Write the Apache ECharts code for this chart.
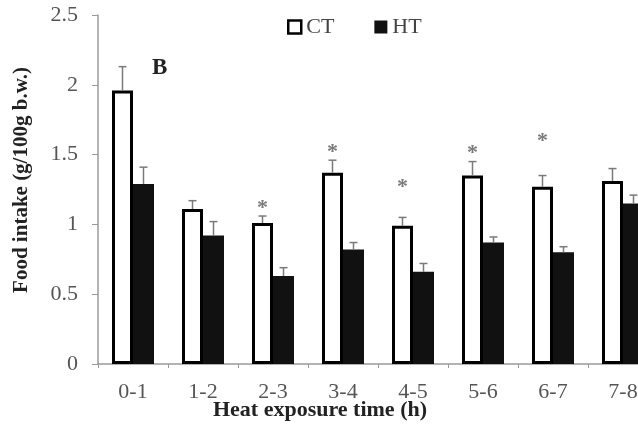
<!DOCTYPE html>
<html>
<head>
<meta charset="utf-8">
<script src="https://cdn.jsdelivr.net/npm/echarts@6/dist/echarts.min.js"></script>
<style>
  html, body { margin: 0; padding: 0; background: #fff; overflow: hidden; }
  /* the original figure is cut off on the right, so the chart is a bit wider than the window */
  #main { width: 658px; height: 427px; }
</style>
</head>
<body>
<div id="main"></div>
<script>
var categories = ['0-1', '1-2', '2-3', '3-4', '4-5', '5-6', '6-7', '7-8']
var ctMean = [1.96, 1.11, 1.01, 1.37, 0.99, 1.35, 1.27, 1.31]
var ctErr = [0.17, 0.06, 0.05, 0.09, 0.06, 0.10, 0.08, 0.09]
var htMean = [1.29, 0.92, 0.63, 0.82, 0.66, 0.87, 0.80, 1.15]
var htErr = [0.12, 0.10, 0.06, 0.05, 0.06, 0.04, 0.04, 0.06]
// height of the significance star above the CT bar (null = none)
var stars = [null, null, 1.14, 1.54, 1.29, 1.53, 1.62, null]

var serif = '"Liberation Serif", "DejaVu Serif", serif'
var errColor = '#7a7a7a'

// error bars (upper only) + stars
function renderErr (params, api) {
  var i = api.value(0)
  var bandW = api.size([1, 0])[0]
  var barW = bandW * 0.3
  var children = []
  var sets = [[ctMean, ctErr, -barW / 2], [htMean, htErr, barW / 2]]
  sets.forEach(function (s) {
    var base = api.coord([i, s[0][i]])
    var top = api.coord([i, s[0][i] + s[1][i]])
    var x = base[0] + s[2]
    children.push({
      type: 'line',
      shape: { x1: x, y1: base[1], x2: x, y2: top[1] },
      style: { stroke: errColor, lineWidth: 1.5 }
    })
    children.push({
      type: 'line',
      shape: { x1: x - 4, y1: top[1], x2: x + 4, y2: top[1] },
      style: { stroke: errColor, lineWidth: 1.5 }
    })
  })
  if (stars[i] != null) {
    var p = api.coord([i, stars[i]])
    children.push({
      type: 'text',
      x: p[0] - barW / 2,
      y: p[1] + 3,
      style: {
        text: '*',
        fill: errColor,
        font: 'bold 22px ' + serif,
        align: 'center',
        verticalAlign: 'middle'
      }
    })
  }
  return { type: 'group', children: children }
}

var errData = categories.map(function (c, i) {
  return [i, ctMean[i] + ctErr[i], htMean[i] + htErr[i]]
})

var myChart = echarts.init(document.getElementById('main'))
myChart.setOption({
  animation: false,
  backgroundColor: '#fff',
  grid: {
    left: 98,
    right: 0,
    top: 15,
    bottom: 63
  },
  legend: {
    left: 282,
    top: 11,
    icon: 'rect',
    itemWidth: 13,
    itemHeight: 13,
    itemGap: 40,
    textStyle: { fontFamily: serif, fontSize: 22, color: '#444' },
    data: [
      { name: 'CT', itemStyle: { color: '#fff', borderColor: '#000', borderWidth: 2.5 } },
      { name: 'HT', itemStyle: { color: '#111' } }
    ]
  },
  xAxis: {
    type: 'category',
    data: categories,
    axisLine: { lineStyle: { color: '#9a9a9a', width: 1.5 } },
    axisTick: { show: true, length: 4, lineStyle: { color: '#9a9a9a' } },
    axisLabel: { margin: 17, fontFamily: serif, fontSize: 22, color: '#555' }
  },
  yAxis: {
    type: 'value',
    min: 0,
    max: 2.5,
    interval: 0.5,
    splitLine: { show: false },
    axisLine: { show: true, lineStyle: { color: '#9a9a9a', width: 1.5 } },
    axisTick: { show: true, length: 6, lineStyle: { color: '#9a9a9a' } },
    axisLabel: { margin: 20, fontFamily: serif, fontSize: 22, color: '#555' }
  },
  graphic: [
    {
      type: 'text',
      left: 152,
      top: 57,
      style: { text: 'B', font: 'bold 23px ' + serif, fill: '#222' }
    },
    {
      type: 'text',
      x: 320,
      y: 410,
      style: {
        text: 'Heat exposure time (h)',
        font: 'bold 22px ' + serif,
        fill: '#222',
        align: 'center',
        verticalAlign: 'middle'
      }
    },
    {
      type: 'text',
      x: 22,
      y: 180,
      rotation: Math.PI / 2,
      style: {
        text: 'Food intake (g/100g b.w.)',
        font: 'bold 21px ' + serif,
        fill: '#222',
        align: 'center',
        verticalAlign: 'middle'
      }
    }
  ],
  series: [
    {
      name: 'CT',
      type: 'bar',
      barGap: '0%',
      barCategoryGap: '40%',
      itemStyle: { color: '#fff', borderColor: '#000', borderWidth: 3 },
      data: ctMean
    },
    {
      name: 'HT',
      type: 'bar',
      itemStyle: { color: '#111' },
      data: htMean
    },
    {
      name: 'err',
      type: 'custom',
      renderItem: renderErr,
      encode: { x: 0, y: [1, 2] },
      z: 5,
      data: errData
    }
  ]
})
</script>
</body>
</html>
